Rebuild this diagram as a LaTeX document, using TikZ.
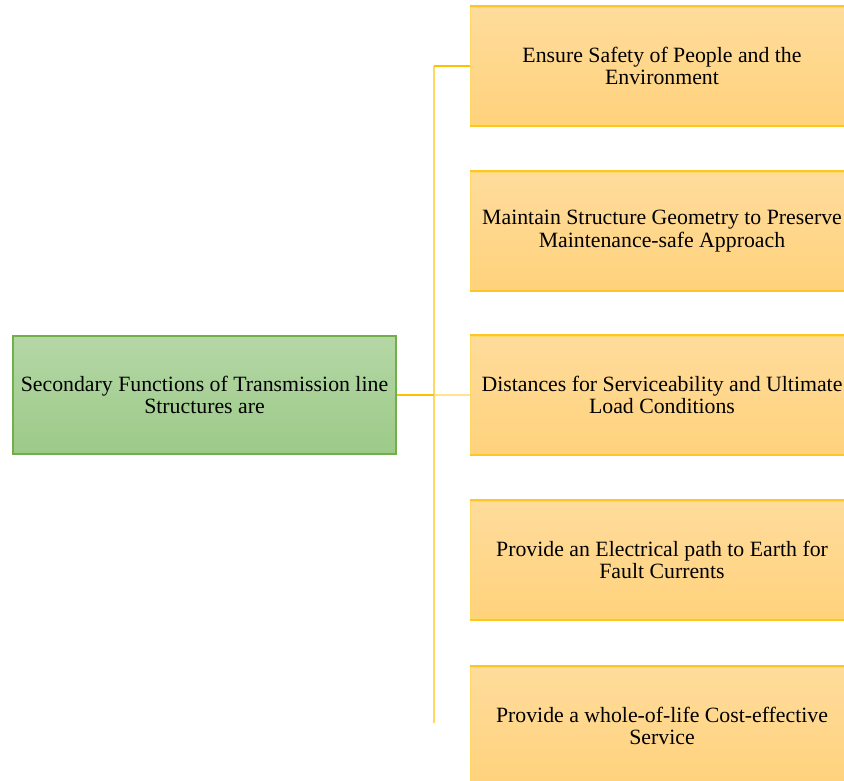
\documentclass[tikz,border=0pt]{standalone}
\usepackage{fontspec}
\setmainfont{Liberation Serif}
\newfontfamily\timesf{Liberation Serif}
\definecolor{gtop}{HTML}{B5D7A6}
\definecolor{gbot}{HTML}{9CCA88}
\definecolor{gborder}{HTML}{72AE4A}
\definecolor{otop}{HTML}{FFDC9C}
\definecolor{obot}{HTML}{FFD27C}
\definecolor{oborder}{HTML}{FFC527}
\definecolor{oleft}{HTML}{FFD966}
\definecolor{lineA}{HTML}{FFC000}
\definecolor{lineB}{HTML}{FFD860}
\definecolor{lineC}{HTML}{FFE392}
\tikzset{
  boxtext/.style={font=\timesf\fontsize{21.8pt}{22.8pt}\selectfont, align=center, text=black},
  mainbox/.style={boxtext, minimum width=383pt, minimum height=118pt, inner sep=0pt,
    top color=gtop, bottom color=gbot, draw=gborder, line width=1.6pt},
  subbox/.style={boxtext, minimum width=383pt, minimum height=118pt, inner sep=0pt,
    top color=otop, bottom color=obot, draw=oleft, line width=1.2pt},
  edgeline/.style={draw=oborder, line width=2pt},
  connA/.style={draw=lineA, line width=2.2pt},
  connB/.style={draw=lineB, line width=2.2pt},
  connC/.style={draw=lineC, line width=2pt},
}
\begin{document}
\begin{tikzpicture}[x=1pt,y=-1pt]
\useasboundingbox (0,0) rectangle (844,780);
\clip (0,0) rectangle (844,780);
\node[mainbox] (main) at (204.5,395) {Secondary Functions of Transmission line\\Structures are};
\node[subbox] (b1) at (662,66) {Ensure Safety of People and the\\Environment};
\node[subbox] (b2) at (662,231) {Maintain Structure Geometry to Preserve\\Maintenance-safe Approach};
\node[subbox] (b3) at (662,395) {Distances for Serviceability and Ultimate\\Load Conditions};
\node[subbox] (b4) at (662,560) {Provide an Electrical path to Earth for\\Fault Currents};
\node[subbox] (b5) at (662,726) {Provide a whole-of-life Cost-effective\\Service};
\foreach \b in {b1,b2,b3,b4,b5}{
  \draw[edgeline] (\b.north west) -- (\b.north east);
  \draw[edgeline] (\b.south west) -- (\b.south east);
}
\coordinate (j) at (434,395);
\coordinate (jtop) at (434,66);
\coordinate (jbot) at (434,723);
\draw[connB] (jtop) -- (jbot);
\draw[connA] (b1.west) -- (jtop);
\draw[connA] (main.east) -- (j);
\draw[connC] (j) -- (b3.west);
\end{tikzpicture}
\end{document}
